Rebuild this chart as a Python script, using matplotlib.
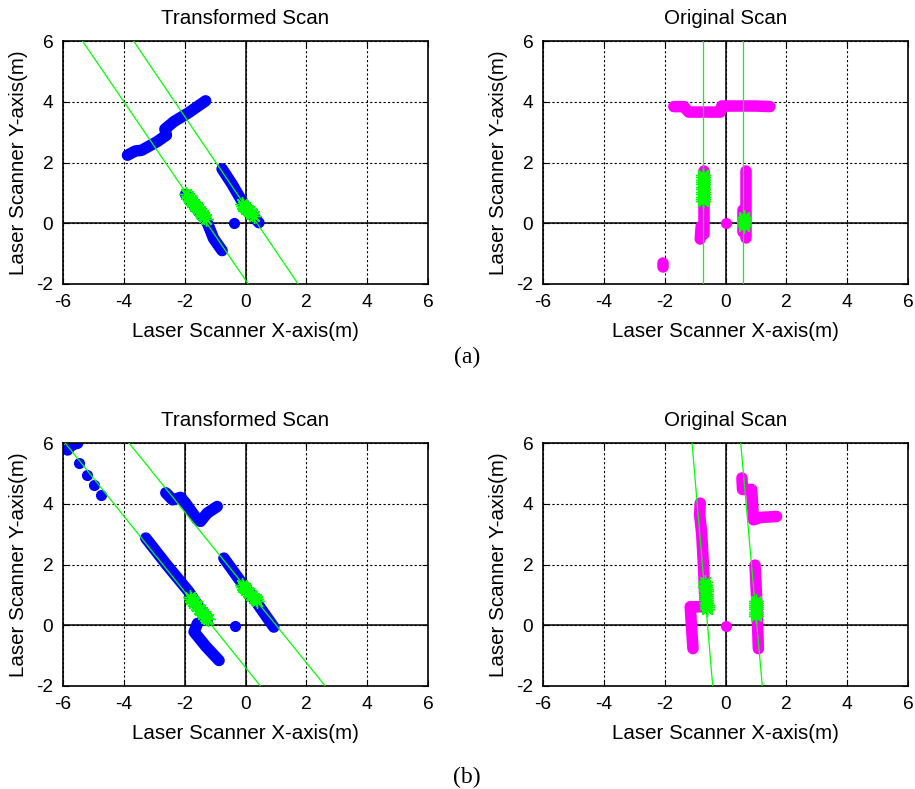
import matplotlib
matplotlib.use("Agg")
import matplotlib.pyplot as plt
import numpy as np

# ---------------- data ----------------
x_ticks = [-6, -4, -2, 0, 2, 4, 6]
y_ticks = [-2, 0, 2, 4, 6]

# (a) transformed scan
a_tr_strip1_x = [-3.88, -3.62, -3.42, -2.90, -2.60, -2.65, -2.35, -1.90, -1.31]
a_tr_strip1_y = [2.24, 2.38, 2.40, 2.69, 2.90, 3.10, 3.35, 3.62, 4.03]
a_tr_strip2_x = [-0.77, -0.45, -0.10, 0.15, 0.44]
a_tr_strip2_y = [1.79, 1.30, 0.70, 0.35, 0.02]
a_tr_strip3_x = [-1.97, -1.55, -1.25, -1.05, -0.77]
a_tr_strip3_y = [0.95, 0.40, 0.00, -0.50, -0.90]
a_tr_dot_x = [-0.38]
a_tr_dot_y = [0.02]
a_tr_line1_x = [-5.36, 0.09]
a_tr_line1_y = [6.0, -2.0]
a_tr_line2_x = [-3.68, 1.73]
a_tr_line2_y = [6.0, -2.0]
a_tr_star_x = [-1.95, -1.90, -1.85, -1.80, -1.75, -1.70, -1.65, -1.60, -1.55,
               -1.50, -1.45, -1.40, -1.35, -1.30,
               -0.12, -0.07, -0.02, 0.03, 0.08, 0.13, 0.18, 0.23, 0.28]
a_tr_star_y = [0.95, 0.89, 0.83, 0.77, 0.70, 0.64, 0.58, 0.52, 0.46,
               0.40, 0.33, 0.27, 0.21, 0.15,
               0.62, 0.57, 0.53, 0.48, 0.43, 0.39, 0.34, 0.30, 0.25]

# (a) original scan
a_or_strip1_x = [-1.70, -1.37, -1.21, -0.17, -0.12, 0.50, 1.00, 1.46]
a_or_strip1_y = [3.84, 3.84, 3.66, 3.66, 3.86, 3.86, 3.86, 3.84]
a_or_strip2_x = [-0.72, -0.72]
a_or_strip2_y = [1.71, -0.35]
a_or_strip3_x = [-0.80, -0.83]
a_or_strip3_y = [-0.10, -0.52]
a_or_strip4_x = [0.67, 0.67]
a_or_strip4_y = [1.71, -0.47]
a_or_strip5_x = [0.56, 0.56]
a_or_strip5_y = [0.45, -0.30]
a_or_strip6_x = [-2.05, -2.05]
a_or_strip6_y = [-1.30, -1.45]
a_or_dot_x = [0.02]
a_or_dot_y = [0.0]
a_or_line1_x = [-0.74, -0.74]
a_or_line1_y = [6.0, -2.0]
a_or_line2_x = [0.59, 0.59]
a_or_line2_y = [6.0, -2.0]
a_or_star_x = [-0.74, -0.74, -0.74, -0.74, -0.74, -0.74, -0.74, -0.74,
               -0.74, -0.74, -0.74, -0.74,
               0.60, 0.60, 0.60, 0.60, 0.60, 0.60]
a_or_star_y = [1.60, 1.52, 1.44, 1.36, 1.28, 1.20, 1.12, 1.04,
               0.96, 0.88, 0.80, 0.72,
               0.22, 0.16, 0.10, 0.04, -0.02, -0.08]

# (b) transformed scan
b_tr_strip1_x = [-5.85, -5.70, -5.52]
b_tr_strip1_y = [5.77, 5.95, 5.99]
b_tr_strip2_x = [-2.62, -2.40, -2.13, -1.97, -1.58, -1.48, -1.26, -0.93]
b_tr_strip2_y = [4.36, 4.13, 4.21, 4.02, 3.47, 3.42, 3.69, 3.91]
b_tr_strip3_x = [-3.28, -2.60, -1.86, -1.26]
b_tr_strip3_y = [2.87, 2.00, 1.10, 0.17]
b_tr_strip4_x = [-0.71, -0.20, 0.40, 0.93]
b_tr_strip4_y = [2.21, 1.50, 0.70, -0.06]
b_tr_strip5_x = [-1.58, -1.69, -1.30, -0.87]
b_tr_strip5_y = [0.06, -0.22, -0.70, -1.16]
b_tr_dot_x = [-5.46, -5.21, -4.99, -4.75, -0.36]
b_tr_dot_y = [5.33, 4.96, 4.63, 4.30, -0.02]
b_tr_line1_x = [-5.93, 0.49]
b_tr_line1_y = [6.0, -2.0]
b_tr_line2_x = [-3.83, 2.62]
b_tr_line2_y = [6.0, -2.0]
b_tr_star_x = [-1.84, -1.79, -1.74, -1.69, -1.64, -1.59, -1.54, -1.49, -1.44,
               -1.39, -1.34, -1.29, -1.24,
               -0.12, -0.07, -0.02, 0.03, 0.08, 0.13, 0.18, 0.23, 0.28, 0.33, 0.38]
b_tr_star_y = [0.92, 0.86, 0.80, 0.74, 0.68, 0.62, 0.55, 0.49, 0.43,
               0.37, 0.31, 0.25, 0.19,
               1.32, 1.27, 1.22, 1.17, 1.11, 1.06, 1.01, 0.96, 0.90, 0.85, 0.80]

# (b) original scan
b_or_strip1_x = [-0.83, -0.85, -0.78, -0.72, -0.67, -1.16, -1.07]
b_or_strip1_y = [4.02, 3.64, 2.98, 1.87, 0.61, 0.61, -0.77]
b_or_strip2_x = [0.54, 0.56, 0.86, 0.92, 1.14, 1.68]
b_or_strip2_y = [4.85, 4.47, 4.47, 3.47, 3.55, 3.58]
b_or_strip3_x = [0.97, 1.03, 1.08]
b_or_strip3_y = [1.98, 0.77, -0.77]
b_or_dot_x = [0.02]
b_or_dot_y = [-0.03]
b_or_line1_x = [-1.10, -0.42]
b_or_line1_y = [6.0, -2.0]
b_or_line2_x = [0.50, 1.21]
b_or_line2_y = [6.0, -2.0]
b_or_star_x = [-0.670, -0.665, -0.660, -0.655, -0.650, -0.645, -0.640,
               -0.635, -0.630, -0.625, -0.620, -0.615, -0.610,
               1.00, 1.00, 1.00, 1.00, 1.00, 1.00, 1.00, 1.00]
b_or_star_y = [1.42, 1.34, 1.27, 1.19, 1.12, 1.04, 0.97,
               0.89, 0.82, 0.74, 0.67, 0.59, 0.52,
               0.80, 0.73, 0.66, 0.59, 0.52, 0.45, 0.38, 0.31]

# ---------------- style ----------------
plt.rcParams['font.family'] = ['Liberation Sans', 'DejaVu Sans']
BLUE = '#0000ff'
MAG = '#ff00ff'
GREEN = '#00ff00'
STAR = (8, 2, 0)

fig = plt.figure(figsize=(9.15, 7.89), dpi=100)

W = 365 / 915
H = 243 / 789
positions = [
    (63 / 915, (789 - 284) / 789),
    (543 / 915, (789 - 284) / 789),
    (63 / 915, (789 - 686) / 789),
    (543 / 915, (789 - 686) / 789),
]


def setup(ax, title, extra_vlines=()):
    ax.set_xlim(-6, 6)
    ax.set_ylim(-2, 6)
    ax.set_xticks(x_ticks)
    ax.set_yticks(y_ticks)
    ax.set_xticklabels([str(v) for v in x_ticks])
    ax.set_yticklabels([str(v) for v in y_ticks])
    ax.tick_params(direction='in', top=True, right=True, length=4,
                   width=0.8, labelsize=13.8, pad=7)
    ax.grid(True, color='black', linestyle=(0, (2, 2)), linewidth=0.8)
    ax.set_axisbelow(True)
    ax.axhline(0, color='black', lw=1.1, zorder=1)
    ax.axvline(0, color='black', lw=1.1, zorder=1)
    for v in extra_vlines:
        ax.axvline(v, color='black', lw=1.1, zorder=1)
    for s in ax.spines.values():
        s.set_linewidth(1.2)
    ax.set_title(title, fontsize=14.8, pad=12)
    ax.set_xlabel('Laser Scanner X-axis(m)', fontsize=14.8, labelpad=8)
    ax.set_ylabel('Laser Scanner Y-axis(m)', fontsize=14.8, labelpad=6)


def strip(ax, xs, ys, color):
    ax.plot(xs, ys, color=color, lw=8.3, solid_capstyle='round',
            solid_joinstyle='round', zorder=2)


def dots(ax, xs, ys, color):
    ax.plot(xs, ys, 'o', color=color, ms=7, mec=color, zorder=2,
            linestyle='none')


def gline(ax, xs, ys):
    ax.plot(xs, ys, color=GREEN, lw=0.9, zorder=3)


def stars(ax, xs, ys):
    ax.plot(xs, ys, linestyle='none', marker=STAR, ms=10.5, mew=1.0,
            color=GREEN, mec=GREEN, zorder=4)


# (a) transformed
ax1 = fig.add_axes([positions[0][0], positions[0][1], W, H])
setup(ax1, 'Transformed Scan')
strip(ax1, a_tr_strip1_x, a_tr_strip1_y, BLUE)
strip(ax1, a_tr_strip2_x, a_tr_strip2_y, BLUE)
strip(ax1, a_tr_strip3_x, a_tr_strip3_y, BLUE)
dots(ax1, a_tr_dot_x, a_tr_dot_y, BLUE)
gline(ax1, a_tr_line1_x, a_tr_line1_y)
gline(ax1, a_tr_line2_x, a_tr_line2_y)
stars(ax1, a_tr_star_x, a_tr_star_y)

# (a) original
ax2 = fig.add_axes([positions[1][0], positions[1][1], W, H])
setup(ax2, 'Original Scan')
for xs, ys in [(a_or_strip1_x, a_or_strip1_y), (a_or_strip2_x, a_or_strip2_y),
               (a_or_strip3_x, a_or_strip3_y), (a_or_strip4_x, a_or_strip4_y),
               (a_or_strip5_x, a_or_strip5_y), (a_or_strip6_x, a_or_strip6_y)]:
    strip(ax2, xs, ys, MAG)
dots(ax2, a_or_dot_x, a_or_dot_y, MAG)
gline(ax2, a_or_line1_x, a_or_line1_y)
gline(ax2, a_or_line2_x, a_or_line2_y)
stars(ax2, a_or_star_x, a_or_star_y)

# (b) transformed
ax3 = fig.add_axes([positions[2][0], positions[2][1], W, H])
setup(ax3, 'Transformed Scan', extra_vlines=(-2,))
for xs, ys in [(b_tr_strip1_x, b_tr_strip1_y), (b_tr_strip2_x, b_tr_strip2_y),
               (b_tr_strip3_x, b_tr_strip3_y), (b_tr_strip4_x, b_tr_strip4_y),
               (b_tr_strip5_x, b_tr_strip5_y)]:
    strip(ax3, xs, ys, BLUE)
dots(ax3, b_tr_dot_x, b_tr_dot_y, BLUE)
gline(ax3, b_tr_line1_x, b_tr_line1_y)
gline(ax3, b_tr_line2_x, b_tr_line2_y)
stars(ax3, b_tr_star_x, b_tr_star_y)

# (b) original
ax4 = fig.add_axes([positions[3][0], positions[3][1], W, H])
setup(ax4, 'Original Scan')
for xs, ys in [(b_or_strip1_x, b_or_strip1_y), (b_or_strip2_x, b_or_strip2_y),
               (b_or_strip3_x, b_or_strip3_y)]:
    strip(ax4, xs, ys, MAG)
dots(ax4, b_or_dot_x, b_or_dot_y, MAG)
gline(ax4, b_or_line1_x, b_or_line1_y)
gline(ax4, b_or_line2_x, b_or_line2_y)
stars(ax4, b_or_star_x, b_or_star_y)

fig.text(467 / 915, 1 - 357 / 789, '(a)', family='Liberation Serif',
         fontsize=17, ha='center', va='center')
fig.text(467 / 915, 1 - 777 / 789, '(b)', family='Liberation Serif',
         fontsize=17, ha='center', va='center')

fig.savefig('out.png', dpi=100)
